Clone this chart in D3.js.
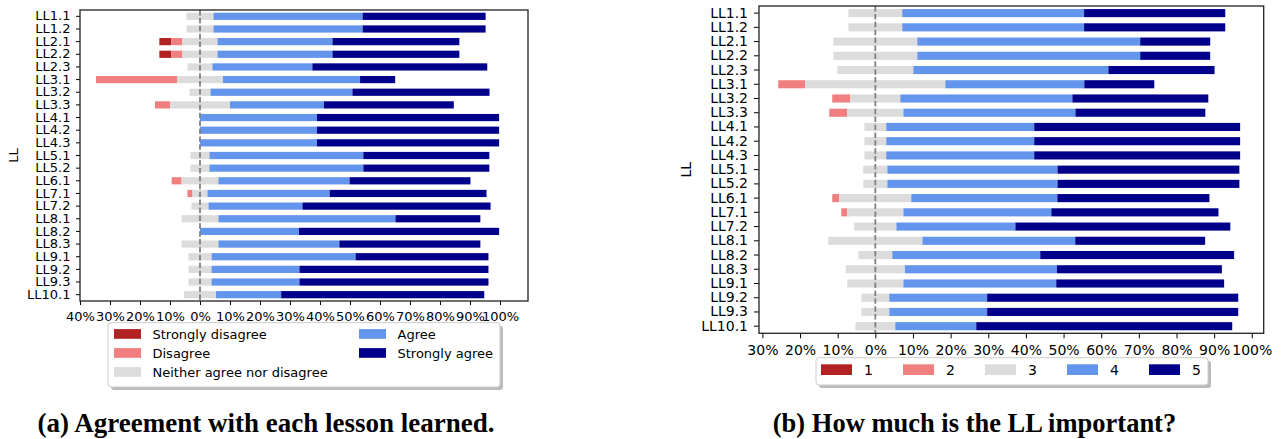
<!DOCTYPE html>
<html><head><meta charset="utf-8">
<script src="https://cdn.jsdelivr.net/npm/d3@7"></script>
<style>body{margin:0;background:#fff} svg{display:block} text{font-family:"DejaVu Sans",sans-serif;fill:#000}</style>
</head><body>
<svg id="c" width="1281" height="439"></svg>
<script>
const categories = ["LL1.1","LL1.2","LL2.1","LL2.2","LL2.3","LL3.1","LL3.2","LL3.3","LL4.1","LL4.2","LL4.3","LL5.1","LL5.2","LL6.1","LL7.1","LL7.2","LL8.1","LL8.2","LL8.3","LL9.1","LL9.2","LL9.3","LL10.1"];

// (a) Agreement (% of answers)
const agreeStronglyDisagree = [0,0,4,4,0,0,0,0,0,0,0,0,0,0,0,0,0,0,0,0,0,0,0];
const agreeDisagree        = [0,0,3.7,3.7,0,27,0,5,0,0,0,0,0,3.3,1.7,0,0,0,0,0,0,0,0];
const agreeNeither         = [9,9,11.7,11.7,8.3,15.3,7,20,0,0,0,6.3,6.3,12.3,5,5.7,12.3,0,12.3,7.7,7.7,7.7,10.7];
const agreeAgree           = [49.7,49.7,38.3,38.3,33.3,45.7,47.3,31.3,39,39,39,51.3,51.3,43.7,40.7,31.3,59,33,40.3,48,29.3,29.3,21.7];
const agreeStronglyAgree   = [41,41,42.3,42.3,58.3,11.7,45.7,43.3,60.7,60.7,60.7,42,42,40.3,52.3,62.7,28.3,66.7,47,44.3,63,63,67.7];

// (b) Importance (% of answers)
const imp1 = [0,0,0,0,0,0,0,0,0,0,0,0,0,0,0,0,0,0,0,0,0,0,0];
const imp2 = [0,0,0,0,0,7.2,4.8,4.8,0,0,0,0,0,1.9,1.6,0,0,0,0,0,0,0,0];
const imp3 = [14.3,14.3,22.3,22.3,20.2,37.2,13.3,14.9,5.8,5.8,5.8,6.4,6.4,19.1,14.9,11.2,25,9,15.7,14.9,7.4,7.4,10.6];
const imp4 = [48.3,48.3,59.2,59.2,51.8,36.9,45.7,45.7,39.3,39.3,39.3,45.2,45.2,38.8,39.3,31.6,40.6,39.3,40.4,40.6,26,26,21.5];
const imp5 = [37.5,37.5,18.6,18.6,28.2,18.6,36.1,34.5,54.7,54.7,54.7,48.3,48.3,40.4,44.4,57.1,34.5,51.5,43.8,44.6,66.7,66.7,68];

const agreeLabels = ["Strongly disagree","Disagree","Neither agree nor disagree","Agree","Strongly agree"];
const impLabels = ["1","2","3","4","5"];
const ticksA = [-40,-30,-20,-10,0,10,20,30,40,50,60,70,80,90,100];
const ticksB = [-30,-20,-10,0,10,20,30,40,50,60,70,80,90,100];
const colors = ["#b22222","#f08080","#dcdcdc","#6495ed","#00008b"];

const svg = d3.select("#c");

function drawChart(o){
  const g = svg.append("g");
  const x = d3.scaleLinear().domain([o.xmin,o.xmax]).range([o.left,o.right]);
  const y = d3.scaleBand().domain(categories).range([o.top,o.bottom]).paddingInner(0.43).paddingOuter(0.215);
  const rows = categories.map((c,i)=>{
    const vals = o.series.map(s=>s[i]);
    let start = -(vals[0]+vals[1]+vals[2]/2);
    return vals.map((v,k)=>{const seg={cat:c,k:k,x0:start,x1:start+v}; start+=v; return seg;});
  }).flat().filter(s=>s.x1-s.x0>0);
  g.selectAll("rect.bar").data(rows).join("rect").attr("class","bar")
    .attr("x",d=>x(d.x0)).attr("width",d=>x(d.x1)-x(d.x0))
    .attr("y",d=>y(d.cat)).attr("height",y.bandwidth())
    .attr("fill",d=>colors[d.k]);
  // zero line
  g.append("line").attr("x1",x(0)).attr("x2",x(0)).attr("y1",o.top).attr("y2",o.bottom)
    .attr("stroke","#808080").attr("stroke-width",1.8).attr("stroke-dasharray","5.5,2.4");
  // axes
  const xa = g.append("g").attr("transform",`translate(0,${o.bottom})`)
    .call(d3.axisBottom(x).tickValues(o.ticks).tickFormat(d=>Math.abs(d)+"%").tickSize(o.tickLen).tickPadding(o.xPad));
  xa.select(".domain").remove();
  xa.selectAll("text").style("font-size",o.font+"px").style("font-family","DejaVu Sans");
  xa.selectAll("line").attr("stroke","#000");
  const ya = g.append("g").attr("transform",`translate(${o.left},0)`)
    .call(d3.axisLeft(y).tickSize(o.tickLen).tickPadding(o.yPad));
  ya.select(".domain").remove();
  ya.selectAll("text").style("font-size",o.font+"px").style("font-family","DejaVu Sans");
  ya.selectAll("line").attr("stroke","#000");
  g.append("rect").attr("x",o.left).attr("y",o.top).attr("width",o.right-o.left).attr("height",o.bottom-o.top)
    .attr("fill","none").attr("stroke","#222").attr("stroke-width",1.3);
  g.append("text").attr("transform",`translate(${o.ylabX},${(o.top+o.bottom)/2}) rotate(-90)`)
    .attr("text-anchor","middle").style("font-size",o.font+"px").text("LL");
}

drawChart({series:[agreeStronglyDisagree,agreeDisagree,agreeNeither,agreeAgree,agreeStronglyAgree],
  left:80,right:528,top:10,bottom:301,xmin:-40,xmax:109.33,ticks:ticksA,font:13,tickLen:4,xPad:6.5,yPad:5.5,ylabX:18});
drawChart({series:[imp1,imp2,imp3,imp4,imp5],
  left:759,right:1263.7,top:6,bottom:333.3,xmin:-30.9,xmax:103.16,ticks:ticksB,font:14,tickLen:5,xPad:7,yPad:6,ylabX:691});

// legend (a)
(function(){
  const g = svg.append("g");
  g.append("rect").attr("x",111).attr("y",325.7).attr("width",392).attr("height",64.3).attr("rx",3).attr("fill","#aaa").attr("opacity",0.8);
  g.append("rect").attr("x",108).attr("y",322.7).attr("width",392).attr("height",64.3).attr("rx",3).attr("fill","#fff").attr("stroke","#ccc");
  const pos = [[114,334],[114,353],[114,372],[359,334],[359,353]];
  const items = agreeLabels.map((l,i)=>({l:l,c:colors[i],p:pos[i]}));
  g.selectAll("rect.sw").data(items).join("rect").attr("class","sw").attr("x",d=>d.p[0]).attr("y",d=>d.p[1]-4.9)
    .attr("width",27).attr("height",9.7).attr("fill",d=>d.c);
  g.selectAll("text.lt").data(items).join("text").attr("class","lt").attr("x",d=>d.p[0]+38.5).attr("y",d=>d.p[1]).attr("dy","0.35em")
    .style("font-size","13px").text(d=>d.l);
})();
// legend (b)
(function(){
  const g = svg.append("g");
  g.append("rect").attr("x",819).attr("y",360.7).attr("width",392).attr("height",27.3).attr("rx",3).attr("fill","#aaa").attr("opacity",0.8);
  g.append("rect").attr("x",816).attr("y",357.7).attr("width",392).attr("height",27.3).attr("rx",3).attr("fill","#fff").attr("stroke","#ccc");
  const items = impLabels.map((l,i)=>({l:l,c:colors[i],x:821+82*i}));
  g.selectAll("rect.sw").data(items).join("rect").attr("class","sw").attr("x",d=>d.x).attr("y",364.3)
    .attr("width",31).attr("height",10.7).attr("fill",d=>d.c);
  g.selectAll("text.lt").data(items).join("text").attr("class","lt").attr("x",d=>d.x+43).attr("y",369.7).attr("dy","0.35em")
    .style("font-size","14px").text(d=>d.l);
})();
// captions
svg.append("text").attr("x",266).attr("y",431.5).attr("text-anchor","middle")
  .style("font-family","Liberation Serif").style("font-weight","bold").style("font-size","27px")
  .text("(a) Agreement with each lesson learned.");
svg.append("text").attr("x",974.5).attr("y",431.5).attr("text-anchor","middle")
  .style("font-family","Liberation Serif").style("font-weight","bold").style("font-size","26.5px")
  .text("(b) How much is the LL important?");
</script>
</body></html>
